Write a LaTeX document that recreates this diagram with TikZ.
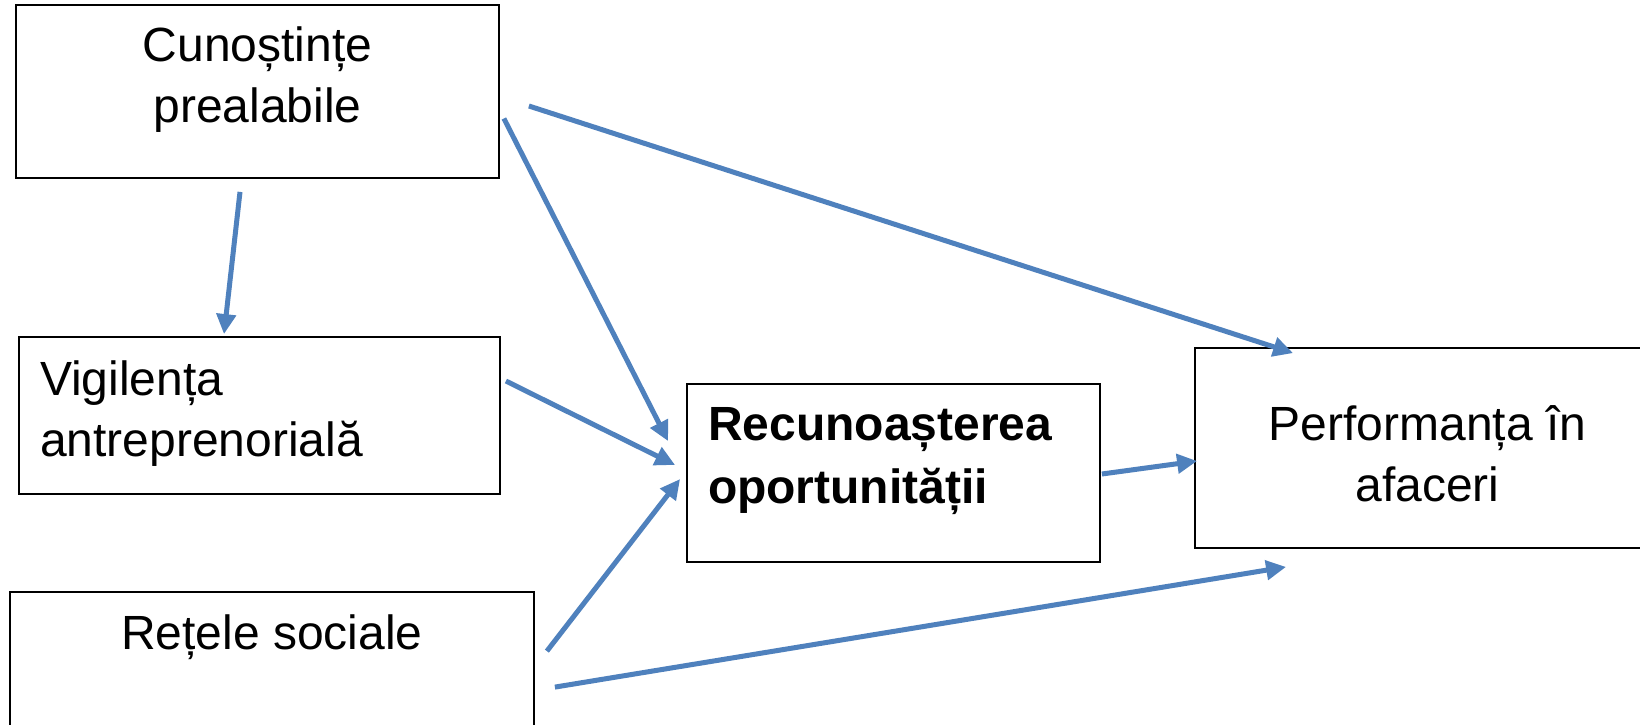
\documentclass[tikz,border=0pt]{standalone}
\usepackage{fontspec}
\setmainfont{Liberation Sans}
\usepackage{xcolor}
\usepackage{tikz}
\usetikzlibrary{arrows.meta}

\definecolor{arrowblue}{RGB}{79,129,189}

\begin{document}
\begin{tikzpicture}[x=1pt,y=-1pt,
  box/.style={draw, line width=1.8pt, inner sep=0pt, font=\fontsize{48}{61}\selectfont},
  arr/.style={draw=arrowblue, line width=5pt, -{Triangle[length=20pt,width=19pt]}}]

\useasboundingbox (0,0) rectangle (1640,725);
\fill[white] (0,0) rectangle (1640,725);
\clip (0,0) rectangle (1640,725);

\node[box, minimum width=483pt, text height=56pt, text depth=117pt] (cun) at (257.5,91.5)
  {\begin{tabular}[t]{@{}c@{}}Cunoștințe\\prealabile\end{tabular}};
\node[box, minimum width=481pt, inner xsep=21pt, text height=58pt, text depth=99pt] (vig) at (259.5,415.5)
  {\begin{tabular}[t]{@{}p{439pt}@{}}Vigilența\\antreprenorială\end{tabular}};
\node[box, minimum width=524pt, text height=57pt, text depth=111pt] (ret) at (272,676)
  {\begin{tabular}[t]{@{}c@{}}Rețele sociale\end{tabular}};
\node[box, minimum width=413pt, inner xsep=21pt, text height=56pt, text depth=122pt] (rec) at (893.5,473)
  {\begin{tabular}[t]{@{}p{371pt}@{}}\bfseries Recunoașterea\\[2pt]\bfseries oportunității\end{tabular}};
\node[box, minimum width=465pt, text height=92pt, text depth=108pt] (perf) at (1427.5,448)
  {\begin{tabular}[t]{@{}c@{}}Performanța în\\afaceri\end{tabular}};

% arrows
\draw[arr] ([shift={(-17.5,13)}]cun.south) -- ([shift={(-35.5,-2)}]vig.north);
\draw[arr] ([shift={(4,27)}]cun.east) -- ([shift={(-18,58)}]rec.north west);
\draw[arr] ([shift={(29,14.5)}]cun.east) -- ([shift={(99,6)}]perf.north west);
\draw[arr] ([shift={(5,-34.5)}]vig.east) -- ([shift={(-11,-8)}]rec.west);
\draw[arr] ([shift={(12,60)}]ret.north east) -- ([shift={(-6,6)}]rec.west);
\draw[arr] ([shift={(20,96)}]ret.north east) -- ([shift={(92,18)}]perf.south west);
\draw[arr] ([shift={(1,1)}]rec.east) -- ([shift={(3,13)}]perf.west);
\end{tikzpicture}
\end{document}
